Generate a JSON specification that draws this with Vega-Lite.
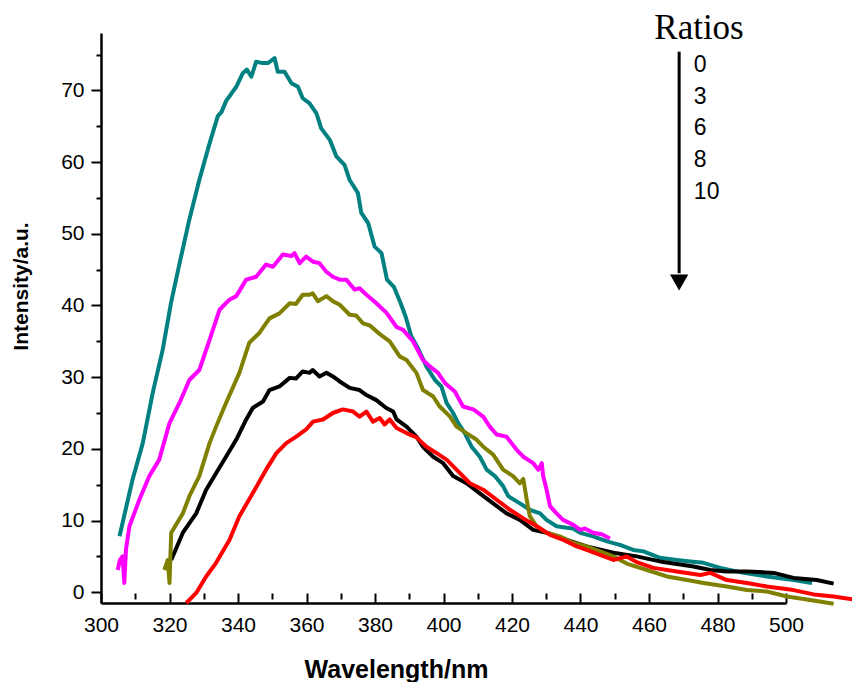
{
  "$schema": "https://vega.github.io/schema/vega-lite/v6.json",
  "width": 685,
  "height": 570,
  "autosize": {"type": "none"},
  "padding": {"left": 101, "top": 33, "right": 66, "bottom": 79},
  "background": "white",
  "config": {
    "view": {"stroke": null},
    "axis": {
      "grid": false,
      "domainColor": "black",
      "domainWidth": 2.5,
      "tickColor": "black",
      "tickWidth": 2,
      "labelFont": "Liberation Sans",
      "labelFontSize": 21,
      "labelColor": "black",
      "labelFlush": false,
      "labelOverlap": false,
      "titleColor": "black",
      "titleFont": "Liberation Sans",
      "titleFontWeight": "bold"
    }
  },
  "datasets": {
    "spectra": [
      {"r":"0","w":305.4,"i":7.8},{"r":"0","w":309.2,"i":15.7},{"r":"0","w":312.2,"i":20.8},{"r":"0","w":315.1,"i":27.8},{"r":"0","w":318,"i":33.8},{"r":"0","w":320.5,"i":40.5},{"r":"0","w":323,"i":46},{"r":"0","w":325.8,"i":52},{"r":"0","w":328.7,"i":57.5},{"r":"0","w":331.7,"i":62.6},{"r":"0","w":334.1,"i":66.4},{"r":"0","w":335.2,"i":67},{"r":"0","w":336.5,"i":68.5},{"r":"0","w":339.5,"i":70.5},{"r":"0","w":341.4,"i":72.4},{"r":"0","w":342.6,"i":72.9},{"r":"0","w":343.9,"i":71.9},{"r":"0","w":345.3,"i":74.0},{"r":"0","w":347.3,"i":73.8},{"r":"0","w":348.7,"i":73.8},{"r":"0","w":350.7,"i":74.5},{"r":"0","w":351.6,"i":72.6},{"r":"0","w":353.6,"i":72.6},{"r":"0","w":355.6,"i":71.0},{"r":"0","w":357.5,"i":70.5},{"r":"0","w":358.9,"i":68.9},{"r":"0","w":360.9,"i":68.2},{"r":"0","w":362.9,"i":66.8},{"r":"0","w":364.3,"i":64.7},{"r":"0","w":366.8,"i":63.1},{"r":"0","w":368.7,"i":60.8},{"r":"0","w":371.1,"i":59.6},{"r":"0","w":372.6,"i":57.5},{"r":"0","w":375.0,"i":55.7},{"r":"0","w":376,"i":52.9},{"r":"0","w":378,"i":51.5},{"r":"0","w":379.9,"i":48.2},{"r":"0","w":381.9,"i":47.3},{"r":"0","w":383.5,"i":43.6},{"r":"0","w":385.5,"i":42.6},{"r":"0","w":387.5,"i":40.3},{"r":"0","w":388.9,"i":38.5},{"r":"0","w":390.6,"i":35.7},{"r":"0","w":392.6,"i":34.0},{"r":"0","w":395.0,"i":31.5},{"r":"0","w":397.5,"i":29.6},{"r":"0","w":399.4,"i":28.7},{"r":"0","w":400.9,"i":26.4},{"r":"0","w":402.8,"i":25.0},{"r":"0","w":404.3,"i":23.6},{"r":"0","w":406.2,"i":22.2},{"r":"0","w":408.2,"i":20.3},{"r":"0","w":410.6,"i":18.9},{"r":"0","w":412.6,"i":17.1},{"r":"0","w":415,"i":16.2},{"r":"0","w":417.4,"i":14.8},{"r":"0","w":418.9,"i":13.4},{"r":"0","w":422.3,"i":12.4},{"r":"0","w":425.2,"i":11.5},{"r":"0","w":428.2,"i":11.0},{"r":"0","w":430.1,"i":10.1},{"r":"0","w":433,"i":9.2},{"r":"0","w":436,"i":9.0},{"r":"0","w":437.8,"i":8.9},{"r":"0","w":439.9,"i":8.3},{"r":"0","w":443.7,"i":7.8},{"r":"0","w":447.7,"i":7.1},{"r":"0","w":451.5,"i":6.6},{"r":"0","w":455.4,"i":5.9},{"r":"0","w":458.4,"i":5.7},{"r":"0","w":463.2,"i":4.8},{"r":"0","w":468.1,"i":4.5},{"r":"0","w":472,"i":4.3},{"r":"0","w":475.9,"i":4.1},{"r":"0","w":480.8,"i":3.4},{"r":"0","w":487.6,"i":2.7},{"r":"0","w":494.4,"i":2.2},{"r":"0","w":502.2,"i":1.7},{"r":"0","w":507.6,"i":1.3},

      {"r":"3","w":304.9,"i":3.1},{"r":"3","w":305.5,"i":4.5},{"r":"3","w":306.3,"i":5.0},{"r":"3","w":306.8,"i":1.3},{"r":"3","w":307.3,"i":6.0},{"r":"3","w":308.3,"i":9.2},{"r":"3","w":311.2,"i":12.9},{"r":"3","w":314.1,"i":16.2},{"r":"3","w":317,"i":18.5},{"r":"3","w":320,"i":23.6},{"r":"3","w":322.9,"i":26.4},{"r":"3","w":325.8,"i":29.6},{"r":"3","w":328.7,"i":31.0},{"r":"3","w":331.7,"i":35.2},{"r":"3","w":334.6,"i":39.4},{"r":"3","w":337.5,"i":40.8},{"r":"3","w":339.5,"i":41.3},{"r":"3","w":342.4,"i":43.6},{"r":"3","w":345.3,"i":44.0},{"r":"3","w":348.2,"i":45.7},{"r":"3","w":350.2,"i":45.4},{"r":"3","w":353.1,"i":47.1},{"r":"3","w":355.6,"i":46.9},{"r":"3","w":356.5,"i":47.3},{"r":"3","w":358.0,"i":45.9},{"r":"3","w":359.9,"i":46.8},{"r":"3","w":361.9,"i":46.1},{"r":"3","w":363.8,"i":45.9},{"r":"3","w":365.8,"i":44.7},{"r":"3","w":367.7,"i":44.0},{"r":"3","w":369.7,"i":43.6},{"r":"3","w":371.6,"i":43.6},{"r":"3","w":374.1,"i":42.2},{"r":"3","w":375.5,"i":42.4},{"r":"3","w":377.5,"i":41.5},{"r":"3","w":380.4,"i":40.3},{"r":"3","w":383.3,"i":39.0},{"r":"3","w":386.3,"i":37.0},{"r":"3","w":388.2,"i":36.6},{"r":"3","w":391.1,"i":35.0},{"r":"3","w":394,"i":32.4},{"r":"3","w":396,"i":31.5},{"r":"3","w":398.4,"i":30.6},{"r":"3","w":400.4,"i":29.2},{"r":"3","w":403.3,"i":28.0},{"r":"3","w":405.7,"i":25.9},{"r":"3","w":408.7,"i":25.5},{"r":"3","w":411.6,"i":24.5},{"r":"3","w":413.5,"i":23.1},{"r":"3","w":415.5,"i":22.0},{"r":"3","w":418.4,"i":21.7},{"r":"3","w":421.3,"i":19.9},{"r":"3","w":423.3,"i":18.9},{"r":"3","w":426.2,"i":18.0},{"r":"3","w":427.7,"i":17.1},{"r":"3","w":428.7,"i":18.0},{"r":"3","w":429.1,"i":16.2},{"r":"3","w":430.1,"i":14.3},{"r":"3","w":431.1,"i":12.0},{"r":"3","w":433,"i":11.0},{"r":"3","w":434.9,"i":10.1},{"r":"3","w":437.9,"i":9.4},{"r":"3","w":439.9,"i":8.7},{"r":"3","w":441.3,"i":8.9},{"r":"3","w":443.7,"i":8.3},{"r":"3","w":446.2,"i":8.1},{"r":"3","w":448.6,"i":7.5},

      {"r":"8","w":320.5,"i":4.5},{"r":"8","w":323.9,"i":8.3},{"r":"8","w":327.8,"i":11.0},{"r":"8","w":330.7,"i":14.3},{"r":"8","w":333.6,"i":16.6},{"r":"8","w":336.5,"i":18.9},{"r":"8","w":339.5,"i":21.3},{"r":"8","w":342.4,"i":24.1},{"r":"8","w":344.3,"i":25.7},{"r":"8","w":347.3,"i":26.6},{"r":"8","w":349.2,"i":28.2},{"r":"8","w":352.1,"i":28.7},{"r":"8","w":355.1,"i":29.9},{"r":"8","w":356.9,"i":29.8},{"r":"8","w":358.9,"i":30.8},{"r":"8","w":360.9,"i":30.6},{"r":"8","w":361.8,"i":31.0},{"r":"8","w":363.8,"i":30.1},{"r":"8","w":365.8,"i":30.6},{"r":"8","w":367.7,"i":30.1},{"r":"8","w":369.7,"i":29.4},{"r":"8","w":372.6,"i":28.5},{"r":"8","w":375.5,"i":28.2},{"r":"8","w":377.5,"i":27.5},{"r":"8","w":380.4,"i":26.8},{"r":"8","w":383.3,"i":25.7},{"r":"8","w":385.3,"i":25.2},{"r":"8","w":386.3,"i":24.1},{"r":"8","w":389.2,"i":23.1},{"r":"8","w":392.1,"i":21.7},{"r":"8","w":394.0,"i":20.3},{"r":"8","w":397,"i":18.9},{"r":"8","w":399.9,"i":18.0},{"r":"8","w":402.8,"i":16.2},{"r":"8","w":406.7,"i":15.2},{"r":"8","w":410.6,"i":13.8},{"r":"8","w":414.5,"i":12.4},{"r":"8","w":418.4,"i":11.0},{"r":"8","w":422.3,"i":10.1},{"r":"8","w":426.2,"i":8.7},{"r":"8","w":430.1,"i":8.3},{"r":"8","w":436,"i":7.3},{"r":"8","w":441.8,"i":6.4},{"r":"8","w":449.6,"i":5.5},{"r":"8","w":456.4,"i":5.0},{"r":"8","w":463.2,"i":4.3},{"r":"8","w":473,"i":3.6},{"r":"8","w":477.9,"i":3.1},{"r":"8","w":482.7,"i":2.9},{"r":"8","w":488.6,"i":2.9},{"r":"8","w":496.4,"i":2.7},{"r":"8","w":502.2,"i":2.0},{"r":"8","w":509,"i":1.7},{"r":"8","w":513.9,"i":1.2},

      {"r":"6","w":318.5,"i":3.1},{"r":"6","w":319.5,"i":4.5},{"r":"6","w":320,"i":1.3},{"r":"6","w":320.5,"i":8.3},{"r":"6","w":323.9,"i":11.0},{"r":"6","w":325.8,"i":13.4},{"r":"6","w":328.7,"i":16.2},{"r":"6","w":331.7,"i":20.8},{"r":"6","w":333.6,"i":23.1},{"r":"6","w":336.5,"i":26.4},{"r":"6","w":340.4,"i":30.6},{"r":"6","w":343.3,"i":34.8},{"r":"6","w":346.3,"i":36.2},{"r":"6","w":349.2,"i":38.2},{"r":"6","w":352.1,"i":38.9},{"r":"6","w":355.1,"i":40.3},{"r":"6","w":356.9,"i":40.2},{"r":"6","w":358.9,"i":41.5},{"r":"6","w":360.9,"i":41.5},{"r":"6","w":361.8,"i":41.7},{"r":"6","w":363.3,"i":40.6},{"r":"6","w":365.8,"i":41.3},{"r":"6","w":367.7,"i":40.6},{"r":"6","w":369.7,"i":40.1},{"r":"6","w":372.6,"i":38.7},{"r":"6","w":374.5,"i":38.6},{"r":"6","w":376.5,"i":37.5},{"r":"6","w":378.5,"i":37.2},{"r":"6","w":381.4,"i":36.0},{"r":"6","w":384.3,"i":35.0},{"r":"6","w":387.2,"i":32.9},{"r":"6","w":389.2,"i":32.4},{"r":"6","w":392.1,"i":30.6},{"r":"6","w":394,"i":28.2},{"r":"6","w":397,"i":27.3},{"r":"6","w":398.9,"i":25.9},{"r":"6","w":401.9,"i":24.5},{"r":"6","w":403.8,"i":23.1},{"r":"6","w":406.7,"i":22.2},{"r":"6","w":409.6,"i":21.3},{"r":"6","w":411.6,"i":20.3},{"r":"6","w":414.5,"i":19.2},{"r":"6","w":417.4,"i":17.1},{"r":"6","w":420.3,"i":16.2},{"r":"6","w":422.3,"i":15.2},{"r":"6","w":423.3,"i":15.8},{"r":"6","w":424.3,"i":12.9},{"r":"6","w":425.2,"i":10.6},{"r":"6","w":427.2,"i":9.2},{"r":"6","w":430.1,"i":8.3},{"r":"6","w":434,"i":7.8},{"r":"6","w":437.9,"i":6.9},{"r":"6","w":441.8,"i":6.4},{"r":"6","w":445.7,"i":5.7},{"r":"6","w":449.6,"i":5.0},{"r":"6","w":453.5,"i":4.0},{"r":"6","w":457.4,"i":3.4},{"r":"6","w":459.4,"i":3.1},{"r":"6","w":465.2,"i":2.2},{"r":"6","w":471.1,"i":1.7},{"r":"6","w":475.9,"i":1.3},{"r":"6","w":482.7,"i":0.8},{"r":"6","w":488.6,"i":0.3},{"r":"6","w":494.4,"i":0.1},{"r":"6","w":500.3,"i":-0.6},{"r":"6","w":506.1,"i":-1.0},{"r":"6","w":513.9,"i":-1.6},

      {"r":"10","w":324.9,"i":-1.5},{"r":"10","w":327.8,"i":-0.1},{"r":"10","w":330.7,"i":2.2},{"r":"10","w":333.6,"i":4.1},{"r":"10","w":337.5,"i":7.3},{"r":"10","w":340.4,"i":10.6},{"r":"10","w":344.3,"i":13.8},{"r":"10","w":348.2,"i":17.1},{"r":"10","w":351.2,"i":19.4},{"r":"10","w":354.1,"i":20.8},{"r":"10","w":357.0,"i":21.7},{"r":"10","w":359.9,"i":22.7},{"r":"10","w":361.9,"i":23.8},{"r":"10","w":364.8,"i":24.1},{"r":"10","w":367.7,"i":25.0},{"r":"10","w":370.6,"i":25.5},{"r":"10","w":373.6,"i":25.2},{"r":"10","w":375.5,"i":24.5},{"r":"10","w":377.5,"i":25.2},{"r":"10","w":379.4,"i":23.8},{"r":"10","w":381.4,"i":24.3},{"r":"10","w":382.8,"i":23.4},{"r":"10","w":384.3,"i":24.1},{"r":"10","w":386.3,"i":22.9},{"r":"10","w":389.2,"i":22.2},{"r":"10","w":392.1,"i":21.6},{"r":"10","w":395,"i":20.3},{"r":"10","w":398.0,"i":19.4},{"r":"10","w":400.9,"i":18.5},{"r":"10","w":403.8,"i":17.1},{"r":"10","w":407.7,"i":15.2},{"r":"10","w":411.6,"i":14.3},{"r":"10","w":415.5,"i":12.9},{"r":"10","w":419.4,"i":11.5},{"r":"10","w":423.3,"i":10.3},{"r":"10","w":427.2,"i":9.2},{"r":"10","w":431.1,"i":8.0},{"r":"10","w":435.0,"i":7.3},{"r":"10","w":438.9,"i":6.4},{"r":"10","w":441.8,"i":5.9},{"r":"10","w":445.7,"i":5.2},{"r":"10","w":449.6,"i":4.5},{"r":"10","w":453.5,"i":5.0},{"r":"10","w":456.4,"i":4.2},{"r":"10","w":461.3,"i":3.4},{"r":"10","w":468.1,"i":2.9},{"r":"10","w":475,"i":2.4},{"r":"10","w":477.9,"i":2.7},{"r":"10","w":482.7,"i":1.7},{"r":"10","w":488.6,"i":1.3},{"r":"10","w":494.4,"i":0.8},{"r":"10","w":502.2,"i":0.3},{"r":"10","w":508.1,"i":-0.3},{"r":"10","w":513.9,"i":-0.6},{"r":"10","w":519.4,"i":-1.0}
    ],
    "arrow": [{"w": 468.8, "top": 75.4, "bottom": 44.5, "head": 43.2}],
    "title": [{"label": "Ratios", "w": 474.6, "i": 77.2}],
    "ratios": [
      {"label": "0", "w": 473.1, "i": 73.54},
      {"label": "3", "w": 473.1, "i": 69.12},
      {"label": "6", "w": 473.1, "i": 64.71},
      {"label": "8", "w": 473.1, "i": 60.29},
      {"label": "10", "w": 473.1, "i": 55.87}
    ]
  },
  "resolve": {"axis": {"x": "independent", "y": "independent"}},
  "layer": [
    {
      "data": {"name": "spectra"},
      "mark": {"type": "line", "strokeWidth": 4, "clip": false, "strokeJoin": "round"},
      "encoding": {
        "x": {
          "field": "w", "type": "quantitative",
          "scale": {"domain": [300, 500], "nice": false, "zero": false},
          "axis": {
            "orient": "bottom",
            "values": [300, 320, 340, 360, 380, 400, 420, 440, 460, 480, 500],
            "tickSize": -10,
            "labelPadding": 21,
            "title": "Wavelength/nm",
            "titleFontSize": 25,
            "titleX": 295,
            "titleY": 74,
            "titleAlign": "center",
            "titleBaseline": "alphabetic"
          }
        },
        "y": {
          "field": "i", "type": "quantitative",
          "scale": {"domain": [-1.5, 78], "nice": false, "zero": false},
          "axis": {
            "orient": "left",
            "values": [0, 10, 20, 30, 40, 50, 60, 70],
            "tickSize": 10,
            "labelPadding": 7,
            "title": "Intensity/a.u.",
            "titleFontSize": 21,
            "titleX": -80,
            "titleY": 253,
            "titleAngle": -90,
            "titleAlign": "center",
            "titleBaseline": "middle"
          }
        },
        "color": {
          "field": "r", "type": "nominal",
          "scale": {"domain": ["0", "3", "6", "8", "10"], "range": ["#008080", "#FF00FF", "#808000", "#000000", "#FF0000"]},
          "legend": null
        },
        "order": {"value": 0}
      }
    },
    {
      "data": {"name": "spectra"},
      "mark": {"type": "point", "opacity": 0},
      "encoding": {
        "x": {
          "field": "w", "type": "quantitative",
          "axis": {
            "orient": "bottom",
            "values": [310, 330, 350, 370, 390, 410, 430, 450, 470, 490],
            "tickSize": -6,
            "offset": -4,
            "labels": false,
            "domain": false,
            "title": null
          }
        },
        "y": {
          "field": "i", "type": "quantitative",
          "axis": {
            "orient": "left",
            "values": [5, 15, 25, 35, 45, 55, 65, 75],
            "tickSize": 5,
            "labels": false,
            "domain": false,
            "title": null
          }
        }
      }
    },
    {
      "data": {"name": "arrow"},
      "mark": {"type": "rule", "strokeWidth": 3, "color": "black", "clip": false},
      "encoding": {
        "x": {"field": "w", "type": "quantitative", "axis": null},
        "y": {"field": "top", "type": "quantitative", "axis": null},
        "y2": {"field": "bottom"}
      }
    },
    {
      "data": {"name": "arrow"},
      "mark": {"type": "point", "shape": "triangle-down", "size": 335, "filled": true, "color": "black", "opacity": 1, "clip": false},
      "encoding": {
        "x": {"field": "w", "type": "quantitative", "axis": null},
        "y": {"field": "head", "type": "quantitative", "axis": null}
      }
    },
    {
      "data": {"name": "title"},
      "mark": {"type": "text", "font": "Liberation Serif", "fontSize": 35, "align": "center", "baseline": "alphabetic", "color": "black", "clip": false},
      "encoding": {
        "x": {"field": "w", "type": "quantitative", "axis": null},
        "y": {"field": "i", "type": "quantitative", "axis": null},
        "text": {"field": "label"}
      }
    },
    {
      "data": {"name": "ratios"},
      "mark": {"type": "text", "font": "Liberation Sans", "fontSize": 23, "align": "left", "baseline": "middle", "color": "black", "clip": false},
      "encoding": {
        "x": {"field": "w", "type": "quantitative", "axis": null},
        "y": {"field": "i", "type": "quantitative", "axis": null},
        "text": {"field": "label"}
      }
    }
  ]
}
